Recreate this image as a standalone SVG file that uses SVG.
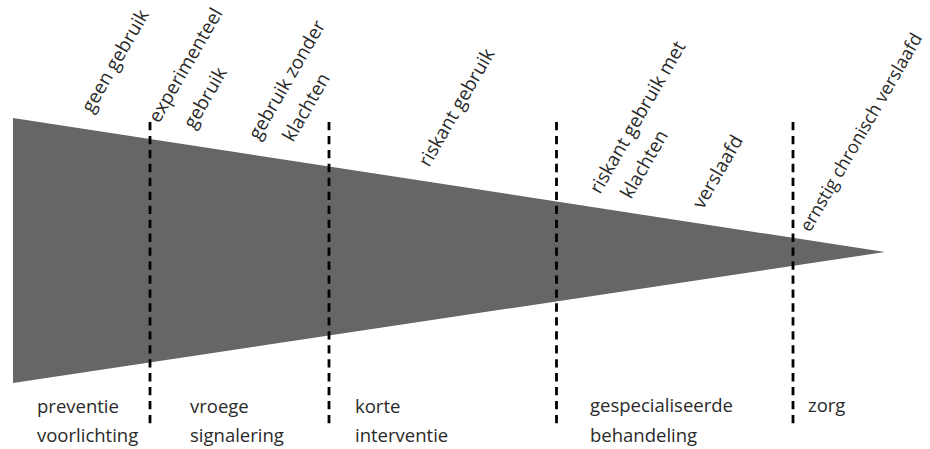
<svg xmlns="http://www.w3.org/2000/svg" width="930" height="449" viewBox="0 0 930 449">
<style>
text { font-family: "Open Sans", "Noto Sans", "DejaVu Sans", sans-serif; font-size: 18.5px; fill: #2a2a2a; }
.rot { font-size: 19px; }
.dash { stroke: #000; stroke-width: 2.8; stroke-dasharray: 8.3 5.65; fill: none; }
</style>
<rect width="930" height="449" fill="#fff"/>
<g id="wedge">
<polygon points="13,118 13,383 885,252" fill="#666"/>
</g>
<g id="connectors">
<line class="dash" x1="150" y1="122" x2="150" y2="424"/>
<line class="dash" x1="329" y1="122" x2="329" y2="424"/>
<line class="dash" x1="556.5" y1="122" x2="556.5" y2="424"/>
<line class="dash" x1="793" y1="122" x2="793" y2="424"/>
</g>
<g id="stage-geen">
<text class="rot" transform="translate(92,114) rotate(-60)">geen gebruik</text>
</g>
<g id="stage-experimenteel">
<text class="rot" transform="translate(159,124) rotate(-60)">experimenteel</text>
<text class="rot" transform="translate(194,130) rotate(-60)">gebruik</text>
</g>
<g id="stage-zonder-klachten">
<text class="rot" transform="translate(259,141) rotate(-60)">gebruik zonder</text>
<text class="rot" transform="translate(293,143) rotate(-60)">klachten</text>
</g>
<g id="stage-riskant">
<text class="rot" transform="translate(429,168) rotate(-60)">riskant gebruik</text>
</g>
<g id="stage-riskant-klachten">
<text class="rot" transform="translate(600,195) rotate(-60)">riskant gebruik met</text>
<text class="rot" transform="translate(631,200) rotate(-60)">klachten</text>
</g>
<g id="stage-verslaafd">
<text class="rot" transform="translate(703,210) rotate(-60)">verslaafd</text>
</g>
<g id="stage-chronisch">
<text transform="translate(810,233) rotate(-60)" style="font-size:18px">ernstig chronisch verslaafd</text>
</g>
<g id="zone-preventie">
<text x="37" y="413">preventie</text>
<text x="37" y="442">voorlichting</text>
</g>
<g id="zone-vroege">
<text x="190" y="413">vroege</text>
<text x="190" y="442">signalering</text>
</g>
<g id="zone-korte">
<text x="355" y="413">korte</text>
<text x="355" y="442">interventie</text>
</g>
<g id="zone-gespecialiseerd">
<text x="590" y="412">gespecialiseerde</text>
<text x="590" y="442">behandeling</text>
</g>
<g id="zone-zorg">
<text x="808" y="412">zorg</text>
</g>
</svg>
